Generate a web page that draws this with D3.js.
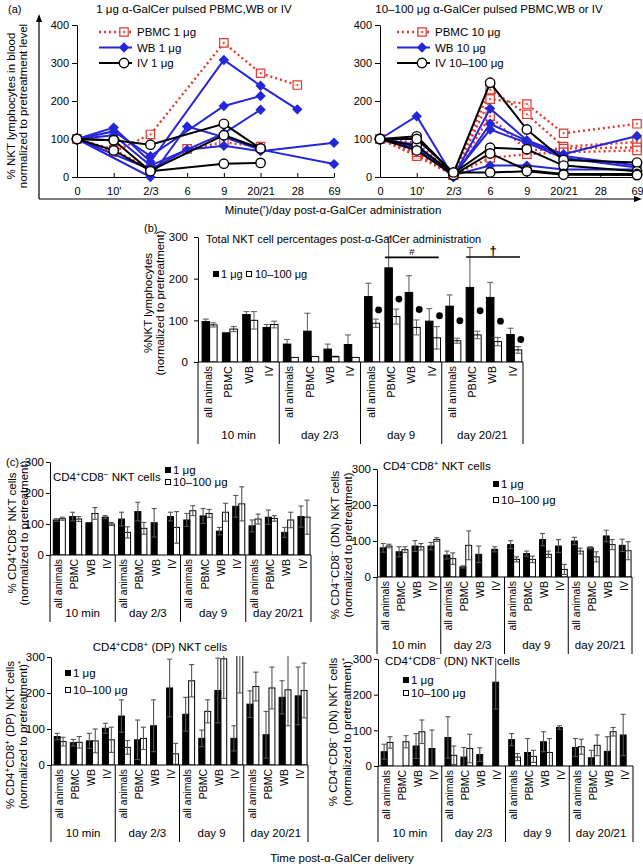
<!DOCTYPE html>
<html>
<head>
<meta charset="utf-8">
<script src="https://cdn.jsdelivr.net/npm/d3@7"></script>
<style>
  body { margin: 0; background: #fff; }
  svg text { font-family: "Liberation Sans", Arial, sans-serif; fill: #000; }
</style>
</head>
<body>
<div id="fig"></div>
<script>
var svgWidth = 643;
var svgHeight = 866;

var svg = d3.select("#fig")
  .append("svg")
  .attr("width", svgWidth)
  .attr("height", svgHeight);

var blue = "#2626d9";
var red = "#e0392e";
var font = "'Liberation Sans', Arial, sans-serif";

// ================= data: panel (a) =================
// sampling points (minute ' / day)
var timeLabels = ["0", "10'", "2/3", "6", "9", "20/21", "28", "69"];
var yTicksA = [0, 100, 200, 300, 400];

// one row per animal, null = not sampled
var pbmc1 = [
  [100, 66, 112, null, 353, 273, 242, null],
  [100, 72, 20, 74, 91, 80, null, null]
];
var wb1 = [
  [100, 130, 40, null, 308, 240, 178, null],
  [100, 120, 55, null, 187, 213, null, null],
  [100, 110, 30, null, 115, 177, null, null],
  [100, null, 0, 133, 105, 72, null, 34],
  [100, null, 20, 72, 82, 68, null, 90]
];
var iv1 = [
  [100, 97, 85, null, 140, 75, null, null],
  [100, 70, 17, null, 110, 75, null, null],
  [100, 97, 15, null, 35, 37, null, null]
];

var pbmc10 = [
  [100, 60, 5, 205, 192, 115, null, 140],
  [100, 55, 5, 230, 165, 80, null, 92],
  [100, 65, 5, 160, 70, 75, null, 78],
  [100, 90, 5, 50, 60, 65, null, 70]
];
var wb10 = [
  [100, 160, 0, 180, 97, 60, null, 108],
  [100, 85, 0, 140, 95, 55, null, 30],
  [100, 80, 5, 125, 90, 50, null, 25],
  [100, 75, 5, 30, 30, 20, null, 20]
];
var iv10 = [
  [100, 107, 10, 248, 125, 45, null, 38],
  [100, 82, 10, 77, 73, 30, null, 15],
  [100, 70, 5, 62, 18, 8, null, 8],
  [100, 100, 12, 12, 15, 6, null, 5]
];

// ================= data: panels (b) and (c) =================
var groupLabels = ["10 min", "day 2/3", "day 9", "day 20/21"];
var routeLabels = ["all animals", "PBMC", "WB", "IV"];
var yTicksBar = [0, 100, 200, 300];

// (b) total NKT cells, 16 bars = 4 time points x 4 routes
var totalLow = [97, 70, 114, 83, 43, 74, 31, 42, 157, 226, 167, 98, 134, 179, 155, 66];
var totalLowSd = [6, 0, 7, 7, 11, 43, 12, 23, 32, 74, 40, 30, 27, 96, 36, 15];
var totalHigh = [89, 79, 100, 90, 11, 13, 13, 11, 93, 109, 83, 58, 51, 65, 49, 29];
var totalHighSd = [5, 6, 21, 8, 0, 0, 1, 0, 10, 18, 18, 27, 6, 9, 10, 8];
var totalDots = [null, null, null, null, null, null, null, null, 125, 151, 126, 111, 99, 123, 98, 54];
var totalSig = [
  { symbol: "#", first: 9, last: 11, level: 251 },
  { symbol: "\u2020", first: 13, last: 15, level: 252 }
];

// (c) CD4+CD8- NKT
var cd4Low = [113, 124, 104, 122, 116, 140, 104, 124, 113, 126, 77, 157, 94, 122, 73, 124];
var cd4LowSd = [4, 14, 0, 5, 22, 30, 46, 14, 21, 24, 12, 35, 19, 23, 16, 34];
var cd4High = [117, 116, 134, 100, 73, 86, null, 89, 143, 134, 138, 165, 116, 118, 113, 122];
var cd4HighSd = [5, 8, 19, 5, 18, 19, 0, 51, 16, 13, 29, 55, 16, 9, 25, 55];

// (c) CD4-CD8+ NKT
var cd8Low = [81, 70, 86, 86, 61, 28, 63, 77, 90, 65, 104, 86, 100, 81, 114, 88];
var cd8LowSd = [12, 14, 15, 10, 11, 3, 23, 7, 11, 7, 17, 18, 10, 3, 16, 17];
var cd8High = [86, 76, 84, 104, 51, 88, null, null, 49, 49, 63, 21, 72, 56, 90, 73];
var cd8HighSd = [5, 8, 9, 5, 16, 40, 0, 0, 7, 9, 9, 14, 8, 14, 14, 25];

// (c) CD4+CD8+ (DP) NKT
var dpLow = [79, 62, 67, 102, 136, 70, 109, 214, 141, 74, 207, 74, 169, 84, 188, 192];
var dpLowSd = [9, 9, 21, 14, 45, 55, 72, 80, 47, 23, 90, 35, 37, 65, 46, 80];
var dpHigh = [65, 63, 67, 70, 49, 74, null, 31, 234, 149, 295, 310, 218, 214, 209, 207];
var dpHighSd = [12, 16, 33, 35, 19, 31, 0, 29, 45, 32, 110, 110, 40, 58, 100, 76];

// (c) CD4-CD8- (DN) NKT
var dnLow = [40, null, 56, 49, 80, 25, 32, 235, 74, 38, 68, 108, 52, 23, 41, 87];
var dnLowSd = [21, 0, 35, 52, 58, 27, 19, 75, 17, 39, 28, 5, 25, 21, 41, 58];
var dnHigh = [66, 68, 96, null, 30, 49, null, null, 25, 27, 38, null, 54, 58, 96, null];
var dnHighSd = [16, 17, 33, 0, 26, 40, 0, 0, 10, 17, 39, 0, 21, 29, 12, 0];

// ================= helpers =================
// "^x" puts the next character up as superscript
function richText(textSel, str, size) {
  var parts = str.split(/(\^.)/);
  var back = 0;
  parts.forEach(function(part) {
    if (part === "") return;
    if (part.charAt(0) === "^") {
      var ch = part.charAt(1) === "-" ? "\u2212" : part.charAt(1);
      textSel.append("tspan").attr("dy", -size * 0.38).attr("font-size", size * 0.7).text(ch);
      back = size * 0.38;
    } else {
      textSel.append("tspan").attr("dy", back).text(part);
      back = 0;
    }
  });
}

function addText(x, y, str, size, anchor, rotate) {
  var t = svg.append("text")
    .attr("font-size", size)
    .attr("text-anchor", anchor || "start");
  if (rotate) {
    t.attr("transform", "translate(" + x + "," + y + ") rotate(-90)");
  } else {
    t.attr("x", x).attr("y", y);
  }
  richText(t, str, size);
  return t;
}

function styleAxis(sel, size) {
  sel.attr("font-family", font).attr("font-size", size);
  sel.selectAll("line").attr("stroke", "#000");
  sel.select(".domain").attr("stroke", "#000");
}

function addMarker(sel, kind, color, px, py) {
  if (kind === "circle") {
    sel.append("circle").attr("cx", px).attr("cy", py).attr("r", 4.7)
      .attr("fill", "#fff").attr("stroke", "#000").attr("stroke-width", 1.4);
  } else if (kind === "diamond") {
    sel.append("path").attr("d", "M0,-5.2L5.2,0L0,5.2L-5.2,0Z")
      .attr("transform", "translate(" + px + "," + py + ")")
      .attr("fill", color);
  } else {
    sel.append("path").attr("d", "M-4.2,-4.2H4.2V4.2H-4.2Z")
      .attr("transform", "translate(" + px + "," + py + ")")
      .attr("fill", "rgba(255,255,255,0.75)").attr("stroke", color).attr("stroke-width", 1.2);
    sel.append("circle").attr("cx", px).attr("cy", py).attr("r", 1).attr("fill", color);
  }
}

// ================= panel (a): line charts =================
function linePanel(left, series, legendX) {
  var x = d3.scalePoint().domain(timeLabels).range([left, left + 257]);
  var y = d3.scaleLinear().domain([0, 400]).range([177, 25]);
  var g = svg.append("g");

  var yAxis = g.append("g")
    .attr("transform", "translate(" + left + ",0)")
    .call(d3.axisLeft(y).tickValues(yTicksA).tickSize(5).tickSizeOuter(0).tickPadding(3));
  styleAxis(yAxis, 11);

  var xAxis = g.append("g")
    .attr("transform", "translate(0,177)")
    .call(d3.axisBottom(x).tickSize(-4).tickSizeOuter(0).tickPadding(10));
  styleAxis(xAxis, 11);

  var line = d3.line().x(function(p) { return p[0]; }).y(function(p) { return y(p[1]); });

  series.forEach(function(s) {
    s.rows.forEach(function(row) {
      // connect sampled points only
      var pts = row.map(function(v, i) { return [x(timeLabels[i]), v]; })
        .filter(function(p) { return p[1] !== null; });
      g.append("path").datum(pts)
        .attr("d", line)
        .attr("fill", "none")
        .attr("stroke", s.color)
        .attr("stroke-width", s.width)
        .attr("stroke-dasharray", s.dash || null);
    });
    s.rows.forEach(function(row) {
      row.forEach(function(v, i) {
        if (v !== null) addMarker(g, s.marker, s.color, x(timeLabels[i]), y(v));
      });
    });
  });

  // legend
  series.forEach(function(s, i) {
    var ly = 32 + i * 15.5;
    g.append("line")
      .attr("x1", legendX).attr("x2", legendX + 33)
      .attr("y1", ly).attr("y2", ly)
      .attr("stroke", s.color).attr("stroke-width", s.width)
      .attr("stroke-dasharray", s.dash || null);
    addMarker(g, s.marker, s.color, legendX + 25, ly);
    addText(legendX + 38, ly + 4, s.name, 11.5);
  });
}

linePanel(77, [
  { rows: pbmc1, name: "PBMC 1 \u03bcg", color: red, width: 2.4, dash: "2,3", marker: "square" },
  { rows: wb1, name: "WB 1 \u03bcg", color: blue, width: 2, marker: "diamond" },
  { rows: iv1, name: "IV 1 \u03bcg", color: "#000", width: 2, marker: "circle" }
], 99);

linePanel(380, [
  { rows: pbmc10, name: "PBMC 10 \u03bcg", color: red, width: 2.4, dash: "2,3", marker: "square" },
  { rows: wb10, name: "WB 10 \u03bcg", color: blue, width: 2, marker: "diamond" },
  { rows: iv10, name: "IV 10\u2013100 \u03bcg", color: "#000", width: 2, marker: "circle" }
], 397);

// panel (a) frame: arrow axes and labels
svg.append("path")
  .attr("d", "M39,199V20M39,199H636")
  .attr("fill", "none").attr("stroke", "#000").attr("stroke-width", 1.2);
svg.append("path").attr("d", "M39,14L36,22L42,22Z").attr("fill", "#000");
svg.append("path").attr("d", "M642,199L634,196L634,202Z").attr("fill", "#000");

addText(8, 13, "(a)", 11);
addText(194, 13, "1 \u03bcg \u03b1-GalCer pulsed PBMC,WB or IV", 11.5, "middle");
addText(489, 13, "10\u2013100 \u03bcg \u03b1-GalCer pulsed PBMC,WB or IV", 11.5, "middle");
addText(15, 106, "% NKT lymphocytes in blood", 11.5, "middle", true);
addText(27, 106, "normalized to pretreatment level", 11.5, "middle", true);
addText(333, 214, "Minute(')/day post-\u03b1-GalCer administration", 11.5, "middle");

// ================= panels (b), (c): grouped bars =================
function barPanel(p) {
  var x = d3.scaleBand().domain(d3.range(16)).range([p.left, p.right]);
  var y = d3.scaleLinear().domain([0, 300]).range([p.bottom, p.top]);
  var bw = x.bandwidth();
  var g = svg.append("g");

  g.append("clipPath").attr("id", "clip-" + p.id)
    .append("rect")
    .attr("x", p.left).attr("y", p.top - 1)
    .attr("width", p.right - p.left + 10).attr("height", p.bottom - p.top + 1);
  var marks = g.append("g").attr("clip-path", "url(#clip-" + p.id + ")");

  var series = [
    { vals: p.low, sd: p.lowSd, off: 0.2, fill: "#000" },
    { vals: p.high, sd: p.highSd, off: 0.57, fill: "none" }
  ];
  var barW = bw * 0.37;

  function drawErrors() {
    series.forEach(function(s) {
      s.vals.forEach(function(v, i) {
        if (v === null || !s.sd[i]) return;
        var cx = x(i) + bw * s.off + barW / 2;
        var hi = y(v + s.sd[i]);
        var lo = y(Math.max(0, v - s.sd[i]));
        var eg = marks.append("g").attr("stroke", p.errColor).attr("stroke-width", 1.1);
        eg.append("line").attr("x1", cx).attr("x2", cx).attr("y1", lo).attr("y2", hi);
        eg.append("line").attr("x1", cx - p.cap).attr("x2", cx + p.cap).attr("y1", hi).attr("y2", hi);
        eg.append("line").attr("x1", cx - p.cap).attr("x2", cx + p.cap).attr("y1", lo).attr("y2", lo);
      });
    });
  }

  if (!p.errOnTop) drawErrors();

  series.forEach(function(s) {
    s.vals.forEach(function(v, i) {
      if (v === null) return;
      marks.append("rect")
        .attr("x", x(i) + bw * s.off)
        .attr("y", y(v))
        .attr("width", barW)
        .attr("height", p.bottom - y(v))
        .attr("fill", s.fill)
        .attr("stroke", "#000")
        .attr("stroke-width", 1);
    });
  });

  if (p.errOnTop) drawErrors();

  // filled dots over the high-dose bars
  if (p.dots) {
    p.dots.forEach(function(v, i) {
      if (v === null) return;
      g.append("circle")
        .attr("cx", x(i) + bw * 0.57 + barW - 1)
        .attr("cy", y(v))
        .attr("r", 3.4)
        .attr("fill", "#000");
    });
  }

  // significance bars
  if (p.sig) {
    p.sig.forEach(function(s) {
      var x1 = x(s.first) + bw * 0.2;
      var x2 = x(s.last) + bw * 0.85;
      g.append("line")
        .attr("x1", x1).attr("x2", x2)
        .attr("y1", y(s.level)).attr("y2", y(s.level))
        .attr("stroke", "#000").attr("stroke-width", 1.6);
      addText((x1 + x2) / 2, y(s.level) - 2, s.symbol, s.symbol === "#" ? 9.5 : 13, "middle")
        .attr("font-weight", s.symbol === "#" ? "normal" : "bold");
    });
  }

  // axes
  var yAxis = g.append("g")
    .attr("transform", "translate(" + p.left + ",0)")
    .call(d3.axisLeft(y).tickValues(yTicksBar).tickSize(4).tickSizeOuter(0).tickPadding(p.tickPad));
  styleAxis(yAxis, 11.5);

  g.append("line")
    .attr("x1", p.left).attr("x2", p.right)
    .attr("y1", p.bottom).attr("y2", p.bottom)
    .attr("stroke", "#000").attr("stroke-width", 1);

  // group separators below the axis
  d3.range(5).forEach(function(k) {
    var sx = k < 4 ? x(k * 4) : p.right;
    g.append("line")
      .attr("x1", sx).attr("x2", sx)
      .attr("y1", p.bottom).attr("y2", p.groupY + 5)
      .attr("stroke", "#000").attr("stroke-width", 1);
  });

  // route labels, rotated
  d3.range(16).forEach(function(i) {
    addText(x(i) + bw / 2 + p.catSize * 0.36, p.bottom + 4, routeLabels[i % 4], p.catSize, "end", true);
  });

  // time point labels
  groupLabels.forEach(function(lbl, k) {
    addText(x(k * 4) + bw * 2, p.groupY, lbl, 11.5, "middle");
  });
}

function barLegend(lx, ly, gap, size) {
  svg.append("rect").attr("x", lx).attr("y", ly - 3).attr("width", 6).attr("height", 6).attr("fill", "#000");
  addText(lx + 8, ly + 4, "1 \u03bcg", size);
  svg.append("rect").attr("x", lx + 0.5).attr("y", ly + gap - 2.5).attr("width", 5).attr("height", 5)
    .attr("fill", "none").attr("stroke", "#000");
  addText(lx + 8, ly + gap + 4, "10\u2013100 \u03bcg", size);
}

// (b)
barPanel({ id: "b", left: 198, right: 523, top: 237, bottom: 362,
  low: totalLow, lowSd: totalLowSd, high: totalHigh, highSd: totalHighSd,
  dots: totalDots, sig: totalSig, errOnTop: false, errColor: "#666", cap: 3,
  catSize: 11, groupY: 439, tickPad: 6 });
addText(144, 232, "(b)", 11);
addText(206, 243, "Total NKT cell percentages post-\u03b1-GalCer administration", 11);
svg.append("rect").attr("x", 213).attr("y", 271).attr("width", 6).attr("height", 6).attr("fill", "#000");
addText(221, 278, "1 \u03bcg", 11);
svg.append("rect").attr("x", 246.5).attr("y", 271.5).attr("width", 5).attr("height", 5)
  .attr("fill", "none").attr("stroke", "#000");
addText(255, 278, "10\u2013100 \u03bcg", 11);
addText(152, 303, "%NKT lymphocytes", 11.5, "middle", true);
addText(164, 303, "(normalized to pretreatment)", 11.5, "middle", true);

// (c) top left
barPanel({ id: "c1", left: 50, right: 311, top: 462, bottom: 555,
  low: cd4Low, lowSd: cd4LowSd, high: cd4High, highSd: cd4HighSd,
  errOnTop: true, errColor: "#555", cap: 2.5, catSize: 10.5, groupY: 617, tickPad: 2 });
addText(6, 466, "(c)", 11);
addText(53, 481, "CD4^+CD8^- NKT cells", 11.5);
barLegend(165, 470, 12, 11.5);
addText(16, 533, "% CD4^+CD8^- NKT cells", 11.5, "middle", true);
addText(28, 533, "(normalized to pretreatment)", 11.5, "middle", true);

// (c) top right
barPanel({ id: "c2", left: 377, right: 632, top: 469, bottom: 577,
  low: cd8Low, lowSd: cd8LowSd, high: cd8High, highSd: cd8HighSd,
  errOnTop: true, errColor: "#555", cap: 2.5, catSize: 10.5, groupY: 649, tickPad: 2 });
addText(383, 470, "CD4^-CD8^+ NKT cells", 11.5);
barLegend(493, 484, 16, 11.5);
addText(339, 545, "% CD4^-CD8^- (DN) NKT cells", 11.5, "middle", true);
addText(352, 545, "(normalized to pretreatment)", 11.5, "middle", true);

// (c) bottom left
barPanel({ id: "c3", left: 51, right: 308, top: 657, bottom: 765,
  low: dpLow, lowSd: dpLowSd, high: dpHigh, highSd: dpHighSd,
  errOnTop: true, errColor: "#555", cap: 2.5, catSize: 10.5, groupY: 837, tickPad: 2 });
addText(160, 651, "CD4^+CD8^+ (DP) NKT cells", 11.5, "middle");
barLegend(65, 673, 17, 11.5);
addText(14, 735, "% CD4^+CD8^+ (DP) NKT cells", 11.5, "middle", true);
addText(27, 735, "(normalized to pretreatment)^*", 11.5, "middle", true);

// (c) bottom right
barPanel({ id: "c4", left: 378, right: 633, top: 659, bottom: 766,
  low: dnLow, lowSd: dnLowSd, high: dnHigh, highSd: dnHighSd,
  errOnTop: true, errColor: "#555", cap: 2.5, catSize: 10.5, groupY: 837, tickPad: 2 });
addText(385, 665, "CD4^+CD8^- (DN) NKT cells", 11.5);
barLegend(403, 680, 13, 11.5);
addText(337, 732, "% CD4^-CD8^- (DN) NKT cells", 11.5, "middle", true);
addText(351, 732, "(normalized to pretreatment)^*", 11.5, "middle", true);

addText(342, 862, "Time post-\u03b1-GalCer delivery", 11.5, "middle");
</script>
</body>
</html>
